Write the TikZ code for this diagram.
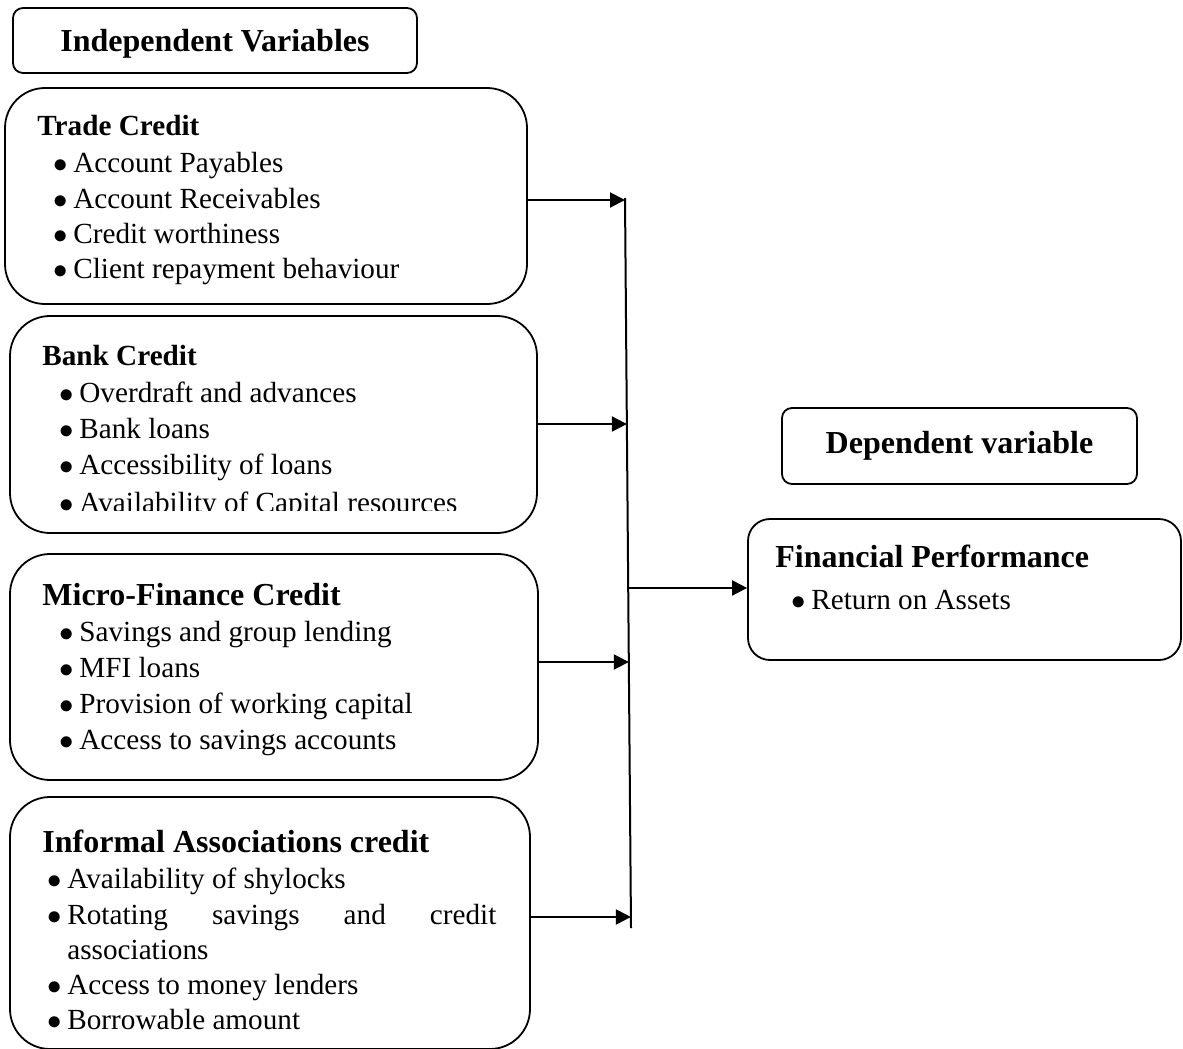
\documentclass[tikz,border=0pt]{standalone}
\usepackage{fontspec}
\setmainfont{Liberation Serif}
\usetikzlibrary{arrows.meta,calc}
\newcommand\bl{\makebox[0pt]{$\bullet$}\hspace{6.5pt}}
\begin{document}
\begin{tikzpicture}[x=0.5pt,y=-0.5pt,
  box/.style={draw=black, line width=0.9pt, inner sep=0pt},
  smallr/.style={rounded corners=5pt},
  bigr/.style={rounded corners=20pt},
  hd/.style={font=\fontsize{16}{19}\selectfont\bfseries, inner sep=0pt, anchor=base west},
  hds/.style={font=\fontsize{14.6}{17}\selectfont\bfseries, inner sep=0pt, anchor=base west},
  txt/.style={font=\fontsize{14.6}{17.5}\selectfont, inner sep=0pt, anchor=base west},
  arr/.style={line width=1pt, -{Triangle[length=7.5pt,width=7.5pt]}},
  bus/.style={line width=1pt}]
\useasboundingbox (0,0) rectangle (1183,1049);

% title boxes
\node[box,smallr,minimum width=202pt,minimum height=32.5pt] (indep) at (215,40.5) {};
\node[hd,anchor=base] (indeptxt) at (215,51) {Independent Variables};
\node[box,smallr,minimum width=177.5pt,minimum height=38pt] (dep) at (959.5,446) {};
\node[hd,anchor=base] (deptxt) at (959.5,453) {Dependent variable};

% trade credit
\node[box,bigr,minimum width=261pt,minimum height=108pt] (trade) at (266,196) {};
\node[hds] (tradeh) at (37,135) {Trade Credit};
\node[txt] (tr1) at (60,172) {\bl Account Payables};
\node[txt] (tr2) at (60,208) {\bl Account Receivables};
\node[txt] (tr3) at (60,243) {\bl Credit worthiness};
\node[txt] (tr4) at (60,278) {\bl Client repayment behaviour};

% bank credit
\node[box,bigr,minimum width=263.5pt,minimum height=108.5pt] (bank) at (273.5,424.5) {};
\node[hds] (bankh) at (42,365) {Bank Credit};
\node[txt] (bk1) at (66,402) {\bl Overdraft and advances};
\node[txt] (bk2) at (66,438) {\bl Bank loans};
\node[txt] (bk3) at (66,474) {\bl Accessibility of loans};
\begin{scope}
\clip (0,316) rectangle (560,510);
\node[txt] (bk4) at (66,512) {\bl Availability of Capital resources};
\end{scope}

% micro-finance
\node[box,bigr,minimum width=264pt,minimum height=113pt] (micro) at (274,667) {};
\node[hd] (microh) at (42,605) {Micro-Finance Credit};
\node[txt] (mc1) at (66,641) {\bl Savings and group lending};
\node[txt] (mc2) at (66,677) {\bl MFI loans};
\node[txt] (mc3) at (66,713) {\bl Provision of working capital};
\node[txt] (mc4) at (66,749) {\bl Access to savings accounts};

% informal
\node[box,bigr,minimum width=260pt,minimum height=126pt] (inf) at (270,923) {};
\node[hd] (infh) at (42,852) {Informal Associations credit};
\node[txt] (if1) at (54,888) {\bl Availability of shylocks};
\node[txt] (if2) at (54,924) {\bl\makebox[214.5pt][s]{Rotating savings and credit}};
\node[txt] (if3) at (67,959) {associations};
\node[txt] (if4) at (54,994) {\bl Access to money lenders};
\node[txt] (if5) at (54,1029) {\bl Borrowable amount};

% financial performance
\node[box,rounded corners=11pt,minimum width=216.5pt,minimum height=70.5pt] (fin) at (964.5,589.5) {};
\node[hd] (finh) at (775,567) {Financial Performance};
\node[txt] (fn1) at (798,609) {\bl Return on Assets};

% bus and arrows
\coordinate (busT) at (625,198);
\coordinate (busB) at (631,928);
\draw[bus] (busT) -- (busB);
\coordinate (b1) at ($(busT)!0.00274!(busB)$);
\coordinate (b2) at ($(busT)!0.3096!(busB)$);
\coordinate (b3) at ($(busT)!0.6356!(busB)$);
\coordinate (b4) at ($(busT)!0.9849!(busB)$);
\coordinate (b0) at ($(busT)!0.5342!(busB)$);
\draw[arr] (trade.east |- b1) -- (b1);
\draw[arr] (bank.east |- b2) -- (b2);
\draw[arr] (micro.east |- b3) -- (b3);
\draw[arr] (inf.east |- b4) -- (b4);
\draw[arr] (b0) -- (fin.west |- b0);
\end{tikzpicture}
\end{document}
